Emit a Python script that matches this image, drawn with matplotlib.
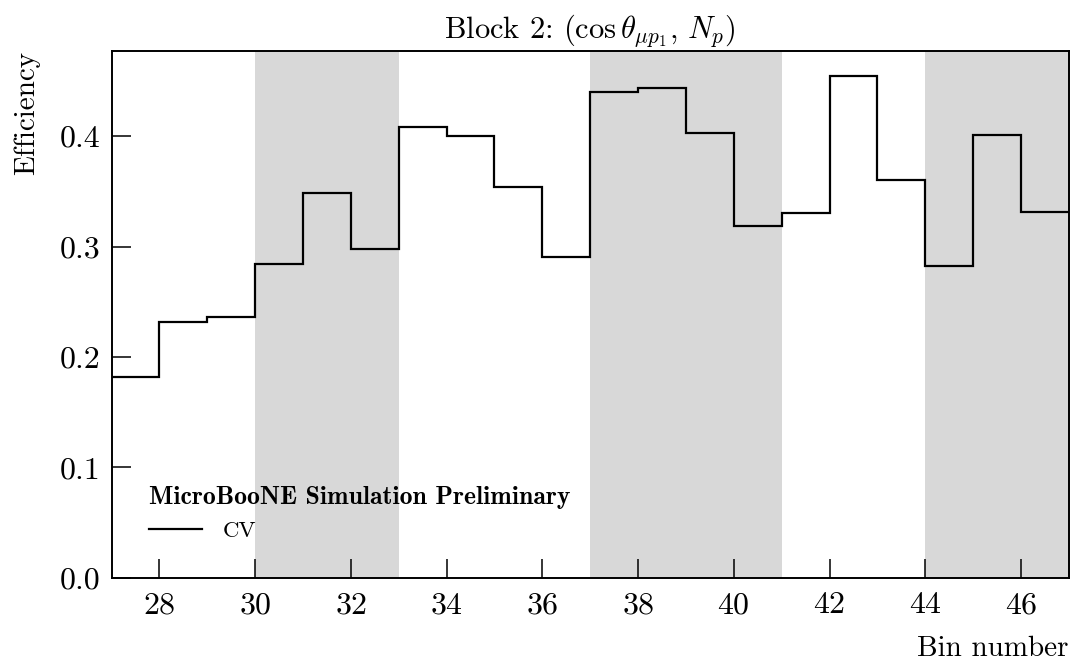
import matplotlib
matplotlib.use("Agg")
import matplotlib.pyplot as plt
import numpy as np

bin_edges = list(range(27, 48))
efficiency = [0.182, 0.232, 0.236, 0.284, 0.349, 0.298, 0.408, 0.400, 0.354, 0.291,
              0.440, 0.444, 0.403, 0.319, 0.330, 0.455, 0.360, 0.282, 0.401, 0.331]
shaded_regions = [(30, 33), (37, 41), (44, 47)]
x_ticks = list(range(28, 47, 2))
y_ticks = [0.0, 0.1, 0.2, 0.3, 0.4]

plt.rcParams['font.family'] = ['cmr10', 'DejaVu Sans']
plt.rcParams['mathtext.fontset'] = 'cm'
plt.rcParams['axes.formatter.use_mathtext'] = True

fig = plt.figure(figsize=(10.73, 6.72), dpi=100)
ax = fig.add_axes([0.1040, 0.1403, 0.9961 - 0.1040, 0.9246 - 0.1403])

for a, b in shaded_regions:
    ax.axvspan(a, b, color='#d8d8d8', lw=0, zorder=0)

ax.stairs(efficiency, bin_edges, color='black', lw=1.6, baseline=None, label='CV', zorder=2)

ax.set_xlim(27, 47)
ax.set_ylim(0, 0.4775)
ax.set_xticks(x_ticks)
ax.set_yticks(y_ticks)
ax.set_yticklabels([f"{v:.1f}" for v in y_ticks])
ax.tick_params(direction='in', length=13.7, width=1.1, labelsize=23,
               top=False, right=False)
ax.tick_params(axis='x', pad=10)
ax.tick_params(axis='y', pad=8)
for s in ax.spines.values():
    s.set_linewidth(1.4)

ax.set_title(r'Block 2: $(\cos\theta_{\mu p_1},\, N_p)$', fontsize=22, pad=9.5)
ax.set_xlabel('Bin number', loc='right', fontsize=21, labelpad=12)
ax.set_ylabel('Efficiency', loc='top', fontsize=21, labelpad=14)

leg = ax.legend(loc='lower left', bbox_to_anchor=(0.039, 0.07), frameon=False,
                fontsize=16.5, title='MicroBooNE Simulation Preliminary',
                title_fontproperties={'family': 'cmb10', 'size': 18.5},
                alignment='left', handlelength=2.3, handletextpad=0.9,
                borderpad=0, borderaxespad=0)

fig.savefig('out.png', dpi=100)
